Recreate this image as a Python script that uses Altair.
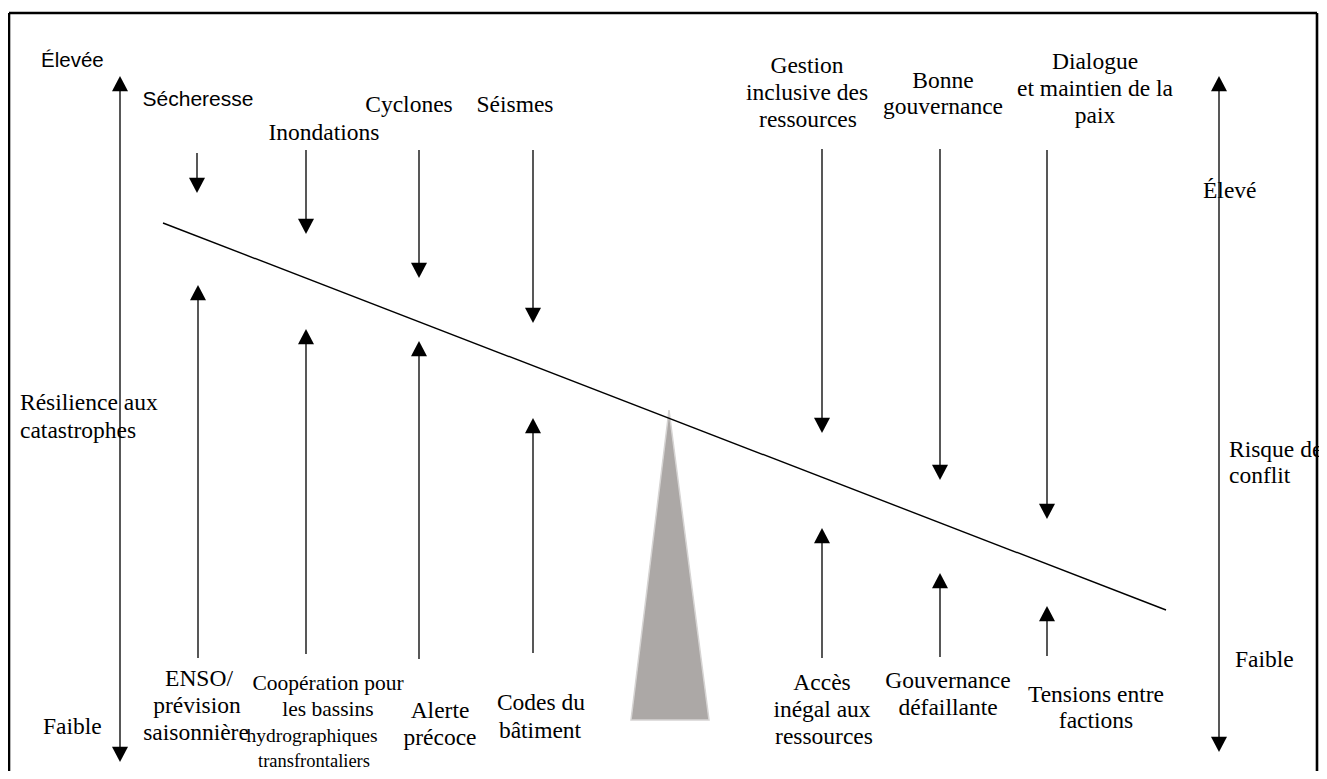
import altair as alt
import pandas as pd

# ---------------- data (diagram coordinate space) ----------------
down_names = ["Sécheresse", "Inondations", "Cyclones", "Séismes",
              "Gestion inclusive des ressources", "Bonne gouvernance",
              "Dialogue et maintien de la paix"]
down_x = [197, 306, 419, 533, 822, 940, 1047]
down_start = [153, 150, 150, 150, 149, 149, 150]
down_tip = [193, 234, 278, 323, 433, 480, 519]

up_names = ["ENSO/ prévision saisonnière", "Coopération pour les bassins hydrographiques transfrontaliers",
            "Alerte précoce", "Codes du bâtiment", "Accès inégal aux ressources",
            "Gouvernance défaillante", "Tensions entre factions"]
up_x = [198, 306, 419, 533, 822, 940, 1047]
up_start = [658, 654, 659, 653, 658, 657, 656]
up_tip = [285, 329, 341, 418, 528, 573, 606]

axis_x = [120, 1219]
axis_top = [76, 76]
axis_bottom = [762, 752]

beam_x = [163, 1166]
beam_y = [223, 610]
fulcrum_x = [631, 669, 709]
fulcrum_y = [720, 410, 720]
fulcrum_base = 720

frame_x = [9, 9, 1317]
frame_x2 = [1317, 9, 1317]
frame_y = [13, 13, 13]
frame_y2 = [13, 790, 790]

# labels: text, x, baseline y, font size
center_labels = [
    ("Inondations", 324, 140, 23.5), ("Cyclones", 409, 112, 23.5), ("Séismes", 515, 112, 23.5),
    ("Gestion", 807, 73, 23.5), ("inclusive des", 807, 100, 23.5), ("ressources", 808, 127, 23.5),
    ("Bonne", 943, 88, 23.5), ("gouvernance", 943, 114, 23.5),
    ("Dialogue", 1095, 69, 23.5), ("et maintien de la", 1095, 96, 23.5), ("paix", 1095, 123, 23.5),
    ("ENSO/", 199, 686, 23.5), ("prévision", 197, 713, 23.5), ("saisonnière", 196, 740, 23.5),
    ("Coopération pour", 328, 690, 21.5), ("les bassins", 328, 716, 21.5),
    ("hydrographiques", 312, 742, 19.5), ("transfrontaliers", 314, 767, 18.5),
    ("Alerte", 440, 718, 23.5), ("précoce", 440, 745, 23.5),
    ("Codes du", 541, 710, 23.5), ("bâtiment", 540, 738, 23.5),
    ("Accès", 822, 690, 23.5), ("inégal aux", 822, 717, 23.5), ("ressources", 824, 744, 23.5),
    ("Gouvernance", 948, 688, 23.5), ("défaillante", 948, 715, 23.5),
    ("Tensions entre", 1096, 702, 23.5), ("factions", 1096, 728, 23.5),
]
left_labels = [
    ("Résilience aux", 20, 410, 23.5), ("catastrophes", 20, 438, 23.5), ("Faible", 43, 734, 23.5),
    ("Élevé", 1203, 198, 23.5), ("Risque de", 1229, 457, 23.5), ("conflit", 1229, 483, 23.5),
    ("Faible", 1235, 667, 23.5),
]
sans_left = [("Élevée", 41, 67, 20.5)]
sans_center = [("Sécheresse", 198, 106, 21)]

HEAD = 9

shafts = pd.DataFrame({
    "x": down_x + up_x + axis_x,
    "y": [t for t in down_start] + [s for s in up_start] + [t + HEAD for t in axis_top],
    "y2": [t - HEAD for t in down_tip] + [t + HEAD for t in up_tip] + [b - HEAD for b in axis_bottom],
})
heads_down = pd.DataFrame({"x": down_x + axis_x, "y": down_tip + axis_bottom})
heads_up = pd.DataFrame({"x": up_x + axis_x, "y": up_tip + axis_top})
beam = pd.DataFrame({"x": [beam_x[0]], "x2": [beam_x[1]], "y": [beam_y[0]], "y2": [beam_y[1]]})
fulcrum = pd.DataFrame({"x": fulcrum_x, "y": fulcrum_y, "y2": [fulcrum_base] * 3})
frame = pd.DataFrame({"x": frame_x, "x2": frame_x2, "y": frame_y, "y2": frame_y2})


def lab(rows):
    return pd.DataFrame(rows, columns=["t", "x", "y", "s"])


XS = alt.Scale(domain=[8, 1319], nice=False, zero=False)
YS = alt.Scale(domain=[8, 771], nice=False, zero=False, reverse=True)
X = alt.X("x:Q", scale=XS, axis=None)
Y = alt.Y("y:Q", scale=YS, axis=None)
S = alt.Size("s:Q", scale=None, legend=None)

layers = []
layers.append(alt.Chart(frame).mark_rule(color="black", strokeWidth=2.6).encode(
    x=X, x2="x2:Q", y=Y, y2="y2:Q"))
layers.append(alt.Chart(fulcrum).mark_area(color="#aca8a6", stroke="#d6d4d3", strokeWidth=1.5,
                                           interpolate="linear", opacity=1).encode(
    x=X, y=Y, y2="y2:Q"))
layers.append(alt.Chart(beam).mark_rule(color="black", strokeWidth=1.4).encode(
    x=X, x2="x2:Q", y=Y, y2="y2:Q"))
layers.append(alt.Chart(shafts).mark_rule(color="#111", strokeWidth=1.4).encode(
    x=X, y=Y, y2="y2:Q"))
layers.append(alt.Chart(heads_down).mark_point(
    shape="M0,0L-1,-1.9L1,-1.9Z", filled=True, color="black", opacity=1, size=256, strokeWidth=0).encode(
    x=X, y=Y))
layers.append(alt.Chart(heads_up).mark_point(
    shape="M0,0L-1,1.9L1,1.9Z", filled=True, color="black", opacity=1, size=256, strokeWidth=0).encode(
    x=X, y=Y))

SERIF = "Liberation Serif"
SANS = "Liberation Sans"
layers.append(alt.Chart(lab(center_labels)).mark_text(
    font=SERIF, align="center", baseline="alphabetic", color="black").encode(
    x=X, y=Y, text="t:N", size=S))
layers.append(alt.Chart(lab(left_labels)).mark_text(
    font=SERIF, align="left", baseline="alphabetic", color="black").encode(
    x=X, y=Y, text="t:N", size=S))
layers.append(alt.Chart(lab(sans_left)).mark_text(
    font=SANS, align="left", baseline="alphabetic", color="black").encode(
    x=X, y=Y, text="t:N", size=S))
layers.append(alt.Chart(lab(sans_center)).mark_text(
    font=SANS, align="center", baseline="alphabetic", color="black").encode(
    x=X, y=Y, text="t:N", size=S))

chart = alt.layer(*layers).properties(
    width=1311, height=763, padding=0, autosize=alt.AutoSizeParams(type="none"),
    background="white"
).configure_view(stroke=None)

chart.save("out.html", embed_options={"renderer": "svg", "actions": False})
